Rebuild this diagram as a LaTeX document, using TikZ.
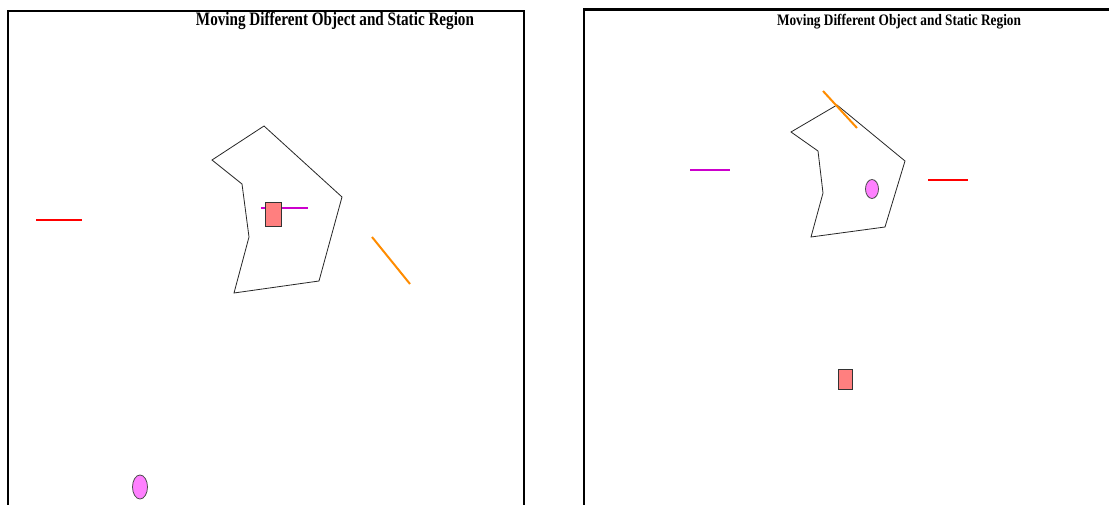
\documentclass[tikz,border=0pt]{standalone}
\usepackage{fontspec}
\setmainfont{Liberation Serif}
\usepackage{graphicx}
\definecolor{salmonfill}{HTML}{FF7F7F}
\definecolor{violetfill}{HTML}{FF80FF}
\definecolor{magline}{HTML}{CC00CC}
\definecolor{orangeline}{HTML}{FF8C00}
\definecolor{redline}{HTML}{FF0000}
\tikzset{
  panel/.style={line width=2.5pt, black},
  region/.style={line width=0.8pt, black!85, line join=miter},
  seg/.style={line width=2pt},
  box/.style={fill=salmonfill, draw=black!80, line width=1pt},
  blob/.style={fill=violetfill, draw=black!70, line width=0.8pt},
  title/.style={font=\bfseries, inner sep=0pt}
}
\begin{document}
\begin{tikzpicture}[x=1pt,y=-1pt]
\useasboundingbox (0,0) rectangle (1109,505);
\fill[white] (0,0) rectangle (1109,505);
% panels
\draw[panel] (8,506) -- (8,11) -- (524,11) -- (524,506);
\draw[panel] (584,506) -- (584,9.5) -- (1110,9.5);
% titles
\node[title] (t1) at (335,21) {\resizebox{278pt}{\height}{\fontsize{19}{19}\selectfont\bfseries Moving Different Object and Static Region}};
\node[title] (t2) at (899,21.5) {\resizebox{244pt}{\height}{\fontsize{16}{16}\selectfont\bfseries Moving Different Object and Static Region}};
% left panel
\draw[region] (264,126) -- (212,160) -- (242,184) -- (249,237) -- (234,293) -- (319,281) -- (342,197) -- cycle;
\draw[seg, magline] (261,208) -- (308,208);
\draw[box] (265,203) rectangle (281,227);
\draw[seg, redline] (36,220) -- (82,220);
\draw[seg, orangeline] (372,237) -- (410,284);
\draw[blob] (140,487) ellipse [x radius=7.5, y radius=12];
% right panel
\draw[region] (837,105) -- (791,132) -- (818,151) -- (823,193) -- (811,237) -- (885,227) -- (905,161) -- cycle;
\draw[seg, orangeline] (823,91) -- (857,128);
\draw[blob] (872,189) ellipse [x radius=6.5, y radius=9.5];
\draw[seg, magline] (690,170) -- (730,170);
\draw[seg, redline] (928,180) -- (968,180);
\draw[box] (838,369) rectangle (852,389);
\end{tikzpicture}
\end{document}
